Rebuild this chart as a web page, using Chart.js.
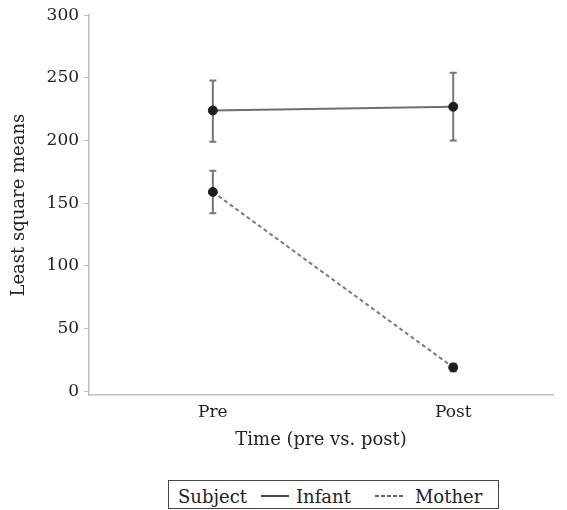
<!DOCTYPE html>
<html>
<head>
<meta charset="utf-8">
<script src="https://cdn.jsdelivr.net/npm/chart.js@4.4.1/dist/chart.umd.min.js"></script>
<style>
    body { margin: 0; background: #fff; }
    #wrap { position: relative; width: 567px; height: 510px; }
    #chartBox { position: absolute; left: 0; top: 0; width: 567px; height: 451px; }
    #legend {
        position: absolute; left: 168px; top: 480px; width: 329px; height: 27px;
        border: 1px solid #444; font-family: 'DejaVu Serif', serif; font-size: 18px;
        color: #222; line-height: 27px; white-space: nowrap;
    }
    #legend span { display: inline-block; vertical-align: middle; }
    .key { width: 28px; height: 1.5px; }
</style>
</head>
<body>
<div id="wrap">
    <div id="chartBox"><canvas id="Lsm_Chart"></canvas></div>
    <div id="legend"></div>
</div>
<script>
// data
var categories = ['Pre', 'Post'];
var xPositions = [1, 2];
var infantMeans = [224, 227];
var infantLow = [199, 200];
var infantHigh = [248, 254];
var motherMeans = [159, 19];
var motherLow = [142, 16];
var motherHigh = [176, 22];
var yTicks = [0, 50, 100, 150, 200, 250, 300];
var seriesNames = ['Infant', 'Mother'];

var fontFamily = "'DejaVu Serif', serif";

function toPoints(vals) {
    return vals.map(function (v, i) { return { x: xPositions[i], y: v }; });
}

// error bars drawn under the points
var errorBars = {
    id: 'errorBars',
    beforeDatasetsDraw: function (chart) {
        var ctx = chart.ctx;
        var xs = chart.scales.x, ys = chart.scales.y;
        chart.data.datasets.forEach(function (ds) {
            if (!ds.errLow) return;
            ctx.save();
            ctx.strokeStyle = '#777';
            ctx.lineWidth = 2;
            ds.errLow.forEach(function (lo, i) {
                var px = xs.getPixelForValue(xPositions[i]);
                var top = ys.getPixelForValue(ds.errHigh[i]);
                var bot = ys.getPixelForValue(lo);
                ctx.beginPath();
                ctx.moveTo(px, top); ctx.lineTo(px, bot);
                ctx.moveTo(px - 3.5, top); ctx.lineTo(px + 3.5, top);
                ctx.moveTo(px - 3.5, bot); ctx.lineTo(px + 3.5, bot);
                ctx.stroke();
            });
            ctx.restore();
        });
    }
};

var Lsm_Chart = null;

function createLsmChart() {
    var canvas = document.getElementById('Lsm_Chart');
    if (Lsm_Chart) {
        Lsm_Chart.destroy();
    }
    Lsm_Chart = new Chart(canvas, {
        type: 'line',
        data: {
            datasets: [
                {
                    label: seriesNames[0],
                    data: toPoints(infantMeans),
                    errLow: infantLow,
                    errHigh: infantHigh,
                    borderColor: '#6e6e6e',
                    borderWidth: 2,
                    pointRadius: 4.5,
                    pointBackgroundColor: '#1e1e1e',
                    pointBorderColor: '#1e1e1e',
                    pointBorderWidth: 1
                },
                {
                    label: seriesNames[1],
                    data: toPoints(motherMeans),
                    errLow: motherLow,
                    errHigh: motherHigh,
                    borderColor: '#7a7a7a',
                    borderWidth: 2,
                    borderDash: [4, 3],
                    pointRadius: 4.5,
                    pointBackgroundColor: '#1e1e1e',
                    pointBorderColor: '#1e1e1e',
                    pointBorderWidth: 1
                }
            ]
        },
        options: {
            responsive: true,
            maintainAspectRatio: false,
            animation: false,
            layout: {
                padding: { left: 9, right: 14, top: 8, bottom: 0 }
            },
            plugins: {
                legend: { display: false },
                tooltip: { enabled: false }
            },
            scales: {
                x: {
                    type: 'linear',
                    min: 0.485,
                    max: 2.415,
                    afterBuildTicks: function (axis) {
                        axis.ticks = xPositions.map(function (v) { return { value: v }; });
                    },
                    grid: { display: false, drawTicks: false },
                    border: { color: '#bdbdbd', width: 1.5 },
                    ticks: {
                        color: '#222',
                        padding: 7,
                        font: { family: fontFamily, size: 17 },
                        callback: function (v) {
                            var i = xPositions.indexOf(v);
                            return i >= 0 ? categories[i] : '';
                        }
                    },
                    title: {
                        display: true,
                        text: 'Time (pre vs. post)',
                        color: '#222',
                        padding: { top: 0, bottom: 0 },
                        font: { family: fontFamily, size: 18 }
                    }
                },
                y: {
                    min: -3,
                    max: 300,
                    afterBuildTicks: function (axis) {
                        axis.ticks = yTicks.map(function (v) { return { value: v }; });
                    },
                    grid: {
                        drawOnChartArea: false,
                        drawTicks: true,
                        tickLength: 5,
                        color: '#bdbdbd'
                    },
                    border: { color: '#bdbdbd', width: 1.5 },
                    ticks: {
                        color: '#222',
                        padding: 5,
                        font: { family: fontFamily, size: 17 }
                    },
                    title: {
                        display: true,
                        text: 'Least square means',
                        color: '#222',
                        padding: { top: 0, bottom: 11 },
                        font: { family: fontFamily, size: 18 }
                    }
                }
            }
        },
        plugins: [errorBars]
    });
}

function buildLegend() {
    var box = document.getElementById('legend');
    var html = '<span style="margin-left:9px">Subject</span>';
    html += '<span class="key" style="background:#444;margin:0 7px 0 14px"></span><span>' + seriesNames[0] + '</span>';
    html += '<span class="key" style="background:repeating-linear-gradient(to right,#666 0 4px,transparent 4px 6px);margin:0 12px 0 24px"></span><span>' + seriesNames[1] + '</span>';
    box.innerHTML = html;
}

document.addEventListener('DOMContentLoaded', function () {
    createLsmChart();
    buildLegend();
});
</script>
</body>
</html>
